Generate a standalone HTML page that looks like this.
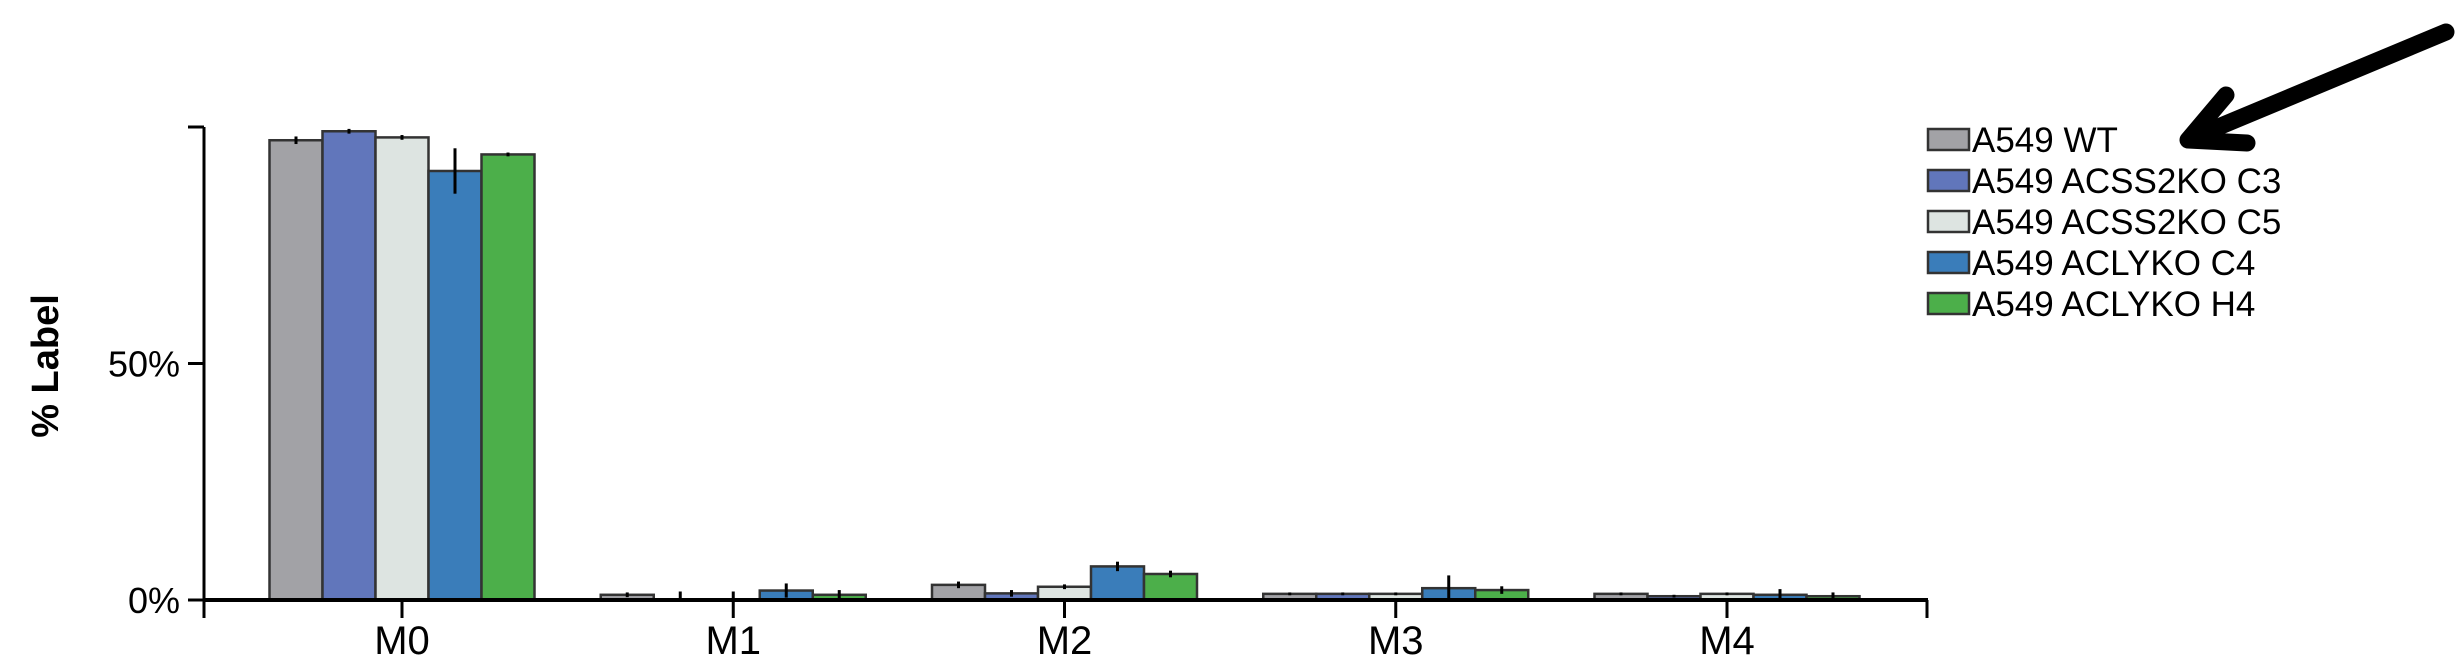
<!DOCTYPE html>
<html><head><meta charset="utf-8"><style>
html,body{margin:0;padding:0;background:#fff;}
svg{display:block;font-family:"Liberation Sans",sans-serif;}
</style></head><body>
<svg id="chart" width="2461" height="663" viewBox="0 0 2461 663" xmlns="http://www.w3.org/2000/svg">
<g id="plot"></g>
<text x="0" y="0" transform="translate(58,366) rotate(-90)" text-anchor="middle" font-weight="bold" font-size="38" fill="#000">% Label</text>
<g id="legend"></g>
<g stroke="#000" stroke-width="17" stroke-linecap="round" stroke-linejoin="round" fill="none">
<line x1="2446" y1="32" x2="2192" y2="138"/>
<polyline points="2226,95 2188,140 2247,143"/>
</g>
</svg>
<script>
const categories = ["M0","M1","M2","M3","M4"];
const seriesNames = ["A549 WT","A549 ACSS2KO C3","A549 ACSS2KO C5","A549 ACLYKO C4","A549 ACLYKO H4"];
const wtVals    = [97.2, 1.1, 3.2, 1.3, 1.3];
const c3Vals    = [99.1, 0.0, 1.4, 1.3, 0.8];
const c5Vals    = [97.8, 0.0, 2.8, 1.3, 1.3];
const c4Vals    = [90.7, 2.0, 7.1, 2.5, 1.1];
const h4Vals    = [94.2, 1.1, 5.5, 2.1, 0.8];
const wtErr     = [0.8, 0.5, 0.7, 0.3, 0.3];
const c3Err     = [0.5, 1.8, 0.7, 0.3, 0.3];
const c5Err     = [0.5, 1.8, 0.5, 0.3, 0.3];
const c4Err     = [4.8, 1.5, 1.0, 2.7, 1.2];
const h4Err     = [0.4, 1.0, 0.7, 0.8, 0.8];
const yTicks = [0, 50, 100];
const yTickLabels = ["0%", "50%", ""];
const colors = ["#a2a2a6","#6176bb","#dde4e1","#3a7dba","#4caf4a"];
const values = [wtVals,c3Vals,c5Vals,c4Vals,h4Vals];
const errs = [wtErr,c3Err,c5Err,c4Err,h4Err];

const NS="http://www.w3.org/2000/svg";
const y0=600, y100=127;
function y(v){return y0-(y0-y100)*v/100;}
const firstCenter=402, step=331.25, barW=53;
function xc(i){return firstCenter+step*i;}
function mk(tag,attrs,parent){const e=document.createElementNS(NS,tag);for(const k in attrs)e.setAttribute(k,attrs[k]);parent.appendChild(e);return e;}
const plot=document.getElementById('plot');

values.forEach((arr,s)=>{
  arr.forEach((v,i)=>{
    const x=xc(i)-2.5*barW+s*barW;
    const r=mk('rect',{x:x,y:y(v),width:barW,height:Math.max(0,y0-y(v)),fill:colors[s],stroke:"#333",'stroke-width':2.5},plot);
    
    
    const e=errs[s][i];
    const l=mk('line',{x1:x+barW/2,x2:x+barW/2,y1:y(v+e),y2:y(Math.max(0,v-e)),stroke:"#000",'stroke-width':3},plot);
    
    
  });
});

const ya=mk('line',{x1:204,x2:204,y1:y100,y2:618,stroke:"#000",'stroke-width':3},plot);


const xa=mk('line',{x1:204,x2:1928,y1:y0,y2:y0,stroke:"#000",'stroke-width':4},plot);


const re=mk('line',{x1:1927,x2:1927,y1:y0,y2:618,stroke:"#000",'stroke-width':3},plot);


yTicks.forEach((t,i)=>{
  const tk=mk('line',{x1:188,x2:204,y1:y(t),y2:y(t),stroke:"#000",'stroke-width':3},plot);
  
  
  if(yTickLabels[i]){
    const tx=mk('text',{x:180,y:y(t)+13,'text-anchor':'end','font-size':36,fill:"#000"},plot);
    tx.textContent=yTickLabels[i];
    
    
  }
});
categories.forEach((c,i)=>{
  const tk=mk('line',{x1:xc(i),x2:xc(i),y1:y0,y2:618,stroke:"#000",'stroke-width':3},plot);
  
  
  const tx=mk('text',{x:xc(i),y:654,'text-anchor':'middle','font-size':40,fill:"#000"},plot);
  tx.textContent=c;
  
  
});

const lg=document.getElementById('legend');
seriesNames.forEach((n,s)=>{
  const cy=139+s*41;
  const r=mk('rect',{x:1928,y:cy-10,width:41,height:21,fill:colors[s],stroke:"#333",'stroke-width':2.5},lg);
  
  
  const t=mk('text',{x:1972,y:cy+13,'font-size':35,fill:"#000"},lg);
  t.textContent=n;
  
  
});
</script>
</body></html>
